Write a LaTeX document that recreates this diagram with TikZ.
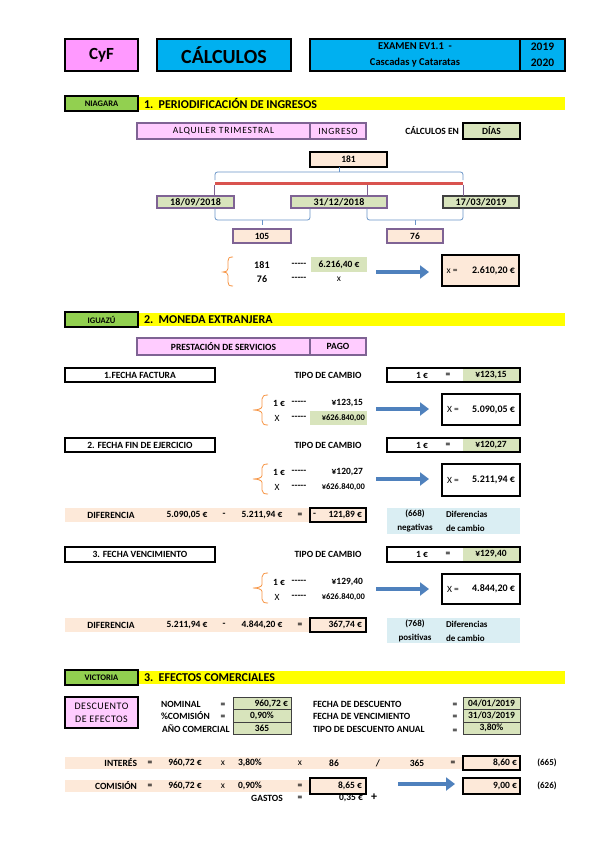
\documentclass[tikz,border=0pt]{standalone}
\usepackage{fontspec}
\setmainfont{Carlito}
\usetikzlibrary{arrows.meta,calc}
\definecolor{cpink}{HTML}{FF99FF}
\definecolor{ccyan}{HTML}{00B0F0}
\definecolor{cgreen}{HTML}{92D050}
\definecolor{cyel}{HTML}{FFFF00}
\definecolor{lpink}{HTML}{FFCCFF}
\definecolor{purp}{HTML}{7F6394}
\definecolor{lgreen}{HTML}{D8E4BC}
\definecolor{peach}{HTML}{FDE9D9}
\definecolor{lblue}{HTML}{DAEEF3}
\definecolor{orng}{HTML}{F79646}
\definecolor{cblue}{HTML}{4F81BD}
\definecolor{dblue}{HTML}{385D8A}
\definecolor{cred}{HTML}{D9534F}
\newcommand\dsh{-{}-{}-{}-{}-}
\begin{document}
\begin{tikzpicture}[x=1pt,y=-1pt,
  every node/.style={inner sep=0pt,outer sep=0pt},
  thk/.style={draw=black,line width=1.6pt},
  pbox/.style={draw=purp,line width=1.1pt},
  gbox/.style={draw=black!75,line width=0.9pt,fill=lgreen},
  nw/.style={anchor=north west},
  tb/.style={font=\bfseries\fontsize{9.5}{11}\selectfont},
  tbv/.style={font=\bfseries\fontsize{8.5}{10}\selectfont},
  tbr/.style={font=\bfseries\fontsize{10}{11}\selectfont\addfontfeature{LetterSpace=2}},
  tr/.style={font=\fontsize{9.5}{11}\selectfont},
  tbs/.style={font=\bfseries\fontsize{9}{10}\selectfont},
  hdr/.style={font=\bfseries\fontsize{12}{13}\selectfont,anchor=west},
  lab/.style={thk,fill=cgreen,minimum width=73,minimum height=15,nw,font=\bfseries\fontsize{8.5}{9}\selectfont},
  ybar/.style={fill=cyel,minimum width=427,minimum height=13,nw},
  bline/.style={draw=cblue!85,line width=0.8pt},
  pline/.style={draw=purp,line width=0.9pt},
  redbar/.style={draw=cred,line width=3pt},
  bigarrow/.style={draw=cblue,line width=4.5pt,-{Triangle[length=9pt,width=13pt]}},
  brace/.style={draw=orng,line width=0.8pt}
]
\path[use as bounding box] (0,0) rectangle (599,848);
\fill[white] (0,0) rectangle (599,848);

% ---------- top row
\node[thk,fill=cpink,minimum width=73,minimum height=32,nw,font=\bfseries\fontsize{17}{18}\selectfont] (cyf) at (65,39) {CyF};
\node[thk,fill=ccyan,minimum width=134,minimum height=32,nw,font=\bfseries\fontsize{20}{22}\selectfont] (calc) at (157,39) {CÁLCULOS};
\node[thk,fill=ccyan,minimum width=210,minimum height=32,nw,align=center,font=\bfseries\fontsize{10.5}{16}\selectfont] (exam) at (310,39) {EXAMEN EV1.1\ \ -\\Cascadas y Cataratas};
\node[thk,fill=ccyan,minimum width=45,minimum height=32,nw,align=center,font=\bfseries\fontsize{11.5}{16}\selectfont] (year) at (520,39) {2019\\2020};

% ---------- section 1
\node[ybar] (bar1) at (138,97) {};
\node[lab] (lab1) at (65,96) {NIAGARA};
\node[hdr] (h1) at (144,103.5) {1.\ \ PERIODIFICACIÓN DE INGRESOS};

\node[pbox,fill=lpink,minimum width=173,minimum height=16,nw,font=\fontsize{9.5}{10}\selectfont\addfontfeature{LetterSpace=8}] (alq) at (137,123) {ALQUILER TRIMESTRAL};
\node[pbox,fill=lpink,minimum width=56,minimum height=16,nw,font=\fontsize{9.5}{10}\selectfont\addfontfeature{LetterSpace=8}] (ing) at (310,123) {INGRESO};
\node[tb,anchor=east] (cen) at (459,131) {CÁLCULOS EN};
\node[thk,fill=lgreen,minimum width=57,minimum height=16,nw,tb] (dias) at (463,123) {DÍAS};

\node[thk,fill=peach,minimum width=77,minimum height=15,nw,tb] (n181) at (310,152) {181};
\node[pbox,fill=lgreen,minimum width=77,minimum height=12,nw,tbr] (d1) at (157,196) {18/09/2018};
\node[pbox,fill=lgreen,minimum width=96,minimum height=12,nw,tbr] (d2) at (291,196) {31/12/2018};
\node[draw=black!75,line width=1.1pt,fill=lgreen,minimum width=76,minimum height=12,nw,tbr] (d3) at (443,196) {17/03/2019};

\coordinate (t181) at (339,172);
\draw[bline] (t181 |- n181.south) -- (t181);
\draw[bline,rounded corners=2.5] (215,180) -- (215,172) -- (463,172) -- (463,180);
\draw[redbar] (215,183) -- (463,183);
\coordinate (pA) at (214,184.5);
\coordinate (pB) at (367,184.5);
\coordinate (pC) at (463,184.5);
\draw[pline] (pA) -- (pA |- d1.north);
\draw[pline] (pB) -- (pB |- d2.north);
\draw[pline] (pC) -- (pC |- d3.north);

\node[pbox,fill=peach,minimum width=58,minimum height=14,nw,tb] (n105) at (233,229) {105};
\node[pbox,fill=peach,minimum width=56,minimum height=14,nw,tb] (n76) at (387,229) {76};
\draw[bline,rounded corners=2.5] (215,208.5) -- (215,220) -- (310,220) -- (310,208.5);
\draw[bline,rounded corners=2.5] (367,208.5) -- (367,220) -- (463,220) -- (463,208.5);
\coordinate (k1) at (262,220);
\coordinate (k2) at (415,220);
\draw[bline,shorten >=4pt] (k1) -- (k1 |- n105.north);
\draw[bline,shorten >=4pt] (k2) -- (k2 |- n76.north);

\draw[brace] (233,257) .. controls (229,257) and (228,258) .. (228,261) -- (228,268.5) .. controls (228,271) and (226,272) .. (223,272) .. controls (226,272) and (228,273) .. (228,275.5) -- (228,282) .. controls (228,285) and (229,286) .. (233,286);
\node[tbr] (q181) at (262,265) {181};
\node[tbr] (q76) at (262,279) {76};
\node[tb] (qd1) at (299,265) {\dsh};
\node[tb] (qd2) at (299,279) {\dsh};
\node[fill=lgreen,minimum width=56,minimum height=15,nw,tb] (g1) at (311,257) {6.216,40 €};
\node[tr] (qx) at (339,279) {x};
\node[thk,fill=peach,minimum width=77,minimum height=31,nw] (r1) at (442,255) {};
\node[tr] (r1a) at (452,271) {x =};
\node[tb,font=\bfseries\fontsize{10}{11}\selectfont,anchor=east] (r1b) at (515,271) {2.610,20 €};
\coordinate (a1s) at (376,272);
\coordinate (a1e) at (429,272);
\draw[bigarrow] (a1s) -- (a1e);

% ---------- section 2
\node[ybar] (bar2) at (138,313) {};
\node[lab] (lab2) at (65,312) {IGUAZÚ};
\node[hdr] (h2) at (144,319.5) {2.\ \ MONEDA EXTRANJERA};
\node[pbox,fill=lpink,minimum width=173,minimum height=17,nw,tb] (pre) at (137,338) {PRESTACIÓN DE SERVICIOS};
\node[pbox,fill=lpink,minimum width=56,minimum height=17,nw,tb] (pag) at (310,338) {PAGO};

% row 1
\node[thk,fill=white,minimum width=150,minimum height=14,nw,tb] (f1) at (65,368) {1.FECHA FACTURA};
\node[tb] (tc1) at (328,375) {TIPO DE CAMBIO};
\node[fill=lgreen,minimum width=57,minimum height=14,nw] (eg1) at (463,368) {};
\node[thk,minimum width=133,minimum height=14,nw] (ex1) at (387,368) {};
\node[tb] (ex1a) at (422,375) {1 €};
\node[tb] (ex1b) at (448,375) {=};
\node[tb] (ex1c) at (491,375) {¥123,15};

\draw[brace] (268,395) .. controls (264,395) and (262,396) .. (262,399) -- (262,406.5) .. controls (262,409) and (257,410) .. (253,410) .. controls (257,410) and (262,411) .. (262,413.5) -- (262,421) .. controls (262,424) and (264,425) .. (268,425);
\node[tb] (s1a) at (279,403) {1 €};
\node[tb] (s1b) at (299,403) {\dsh};
\node[tb,anchor=east] (s1c) at (363,403) {¥123,15};
\node[fill=lgreen,minimum width=57,minimum height=14,nw] (sg1) at (310,411) {};
\node[tr] (s1d) at (277,418) {X};
\node[tb] (s1e) at (299,418) {\dsh};
\node[tbv,anchor=east] (s1f) at (365,418) {¥626.840,00};
\node[thk,fill=white,minimum width=78,minimum height=31,nw] (r2) at (442,394) {};
\node[tr] (r2a) at (453,409.5) {X =};
\node[tb,font=\bfseries\fontsize{10}{11}\selectfont,anchor=east] (r2b) at (515,409.5) {5.090,05 €};
\coordinate (a2s) at (376,409);
\coordinate (a2e) at (429,409);
\draw[bigarrow] (a2s) -- (a2e);

% row 2
\node[thk,fill=white,minimum width=150,minimum height=14,nw,tb] (f2) at (65,438) {2. FECHA FIN DE EJERCICIO};
\node[tb] (tc2) at (328,445) {TIPO DE CAMBIO};
\node[fill=lgreen,minimum width=57,minimum height=14,nw] (eg2) at (463,438) {};
\node[thk,minimum width=133,minimum height=14,nw] (ex2) at (387,438) {};
\node[tb] (ex2a) at (422,445) {1 €};
\node[tb] (ex2b) at (448,445) {=};
\node[tb] (ex2c) at (491,445) {¥120,27};

\draw[brace] (268,464) .. controls (264,464) and (262,465) .. (262,468) -- (262,475.5) .. controls (262,478) and (257,479) .. (253,479) .. controls (257,479) and (262,480) .. (262,482.5) -- (262,490) .. controls (262,493) and (264,494) .. (268,494);
\node[tb] (s2a) at (279,472) {1 €};
\node[tb] (s2b) at (299,472) {\dsh};
\node[tb,anchor=east] (s2c) at (363,472) {¥120,27};
\node[tr] (s2d) at (277,487) {X};
\node[tb] (s2e) at (299,487) {\dsh};
\node[tbv,anchor=east] (s2f) at (365,487) {¥626.840,00};
\node[thk,fill=white,minimum width=78,minimum height=32,nw] (r3) at (442,464) {};
\node[tr] (r3a) at (453,480) {X =};
\node[tb,font=\bfseries\fontsize{10}{11}\selectfont,anchor=east] (r3b) at (515,480) {5.211,94 €};
\coordinate (a3s) at (376,479);
\coordinate (a3e) at (429,479);
\draw[bigarrow] (a3s) -- (a3e);

% diferencia 1
\node[fill=peach,minimum width=245,minimum height=14,nw] (db1) at (65,508) {};
\node[tb] (df1a) at (111,515) {DIFERENCIA};
\node[tb] (df1b) at (187,515) {5.090,05 €};
\node[tb] (df1c) at (224,515) {-};
\node[tb] (df1d) at (262,515) {5.211,94 €};
\node[tb] (df1e) at (300,515) {=};
\node[thk,fill=peach,minimum width=56,minimum height=14,nw] (dr1) at (310,508) {};
\node[tb,anchor=west] (dr1a) at (313,515) {-};
\node[tb,anchor=east] (dr1b) at (362,515) {121,89 €};
\node[fill=lblue,minimum width=133,minimum height=26,nw] (ib1) at (387,508) {};
\node[tbs] (ib1a) at (415,514) {(668)};
\node[tbs] (ib1b) at (415,528) {negativas};
\node[tbs,anchor=west] (ib1c) at (446,514) {Diferencias};
\node[tbs,anchor=west] (ib1d) at (446,528) {de cambio};

% row 3
\node[thk,fill=white,minimum width=150,minimum height=15,nw,tb] (f3) at (65,547) {3. FECHA VENCIMIENTO};
\node[tb] (tc3) at (328,554.5) {TIPO DE CAMBIO};
\node[fill=lgreen,minimum width=57,minimum height=15,nw] (eg3) at (463,547) {};
\node[thk,minimum width=133,minimum height=15,nw] (ex3) at (387,547) {};
\node[tb] (ex3a) at (422,554.5) {1 €};
\node[tb] (ex3b) at (448,554.5) {=};
\node[tb] (ex3c) at (491,554.5) {¥129,40};

\draw[brace] (268,573) .. controls (264,573) and (262,574) .. (262,577) -- (262,584.5) .. controls (262,587) and (257,588) .. (253,588) .. controls (257,588) and (262,589) .. (262,591.5) -- (262,599) .. controls (262,602) and (264,603) .. (268,603);
\node[tb] (s3a) at (279,582) {1 €};
\node[tb] (s3b) at (299,582) {\dsh};
\node[tb,anchor=east] (s3c) at (363,582) {¥129,40};
\node[tr] (s3d) at (277,597) {X};
\node[tb] (s3e) at (299,597) {\dsh};
\node[tbv,anchor=east] (s3f) at (365,597) {¥626.840,00};
\node[thk,fill=white,minimum width=78,minimum height=30,nw] (r4) at (442,574) {};
\node[tr] (r4a) at (453,589) {X =};
\node[tb,font=\bfseries\fontsize{10}{11}\selectfont,anchor=east] (r4b) at (515,589) {4.844,20 €};
\coordinate (a4s) at (376,589);
\coordinate (a4e) at (429,589);
\draw[bigarrow] (a4s) -- (a4e);

% diferencia 2
\node[fill=peach,minimum width=245,minimum height=14,nw] (db2) at (65,618) {};
\node[tb] (df2a) at (111,625) {DIFERENCIA};
\node[tb] (df2b) at (187,625) {5.211,94 €};
\node[tb] (df2c) at (224,625) {-};
\node[tb] (df2d) at (262,625) {4.844,20 €};
\node[tb] (df2e) at (300,625) {=};
\node[thk,fill=peach,minimum width=56,minimum height=14,nw] (dr2) at (310,618) {};
\node[tb,anchor=east] (dr2b) at (362,625) {367,74 €};
\node[fill=lblue,minimum width=133,minimum height=25,nw] (ib2) at (387,618) {};
\node[tbs] (ib2a) at (415,624) {(768)};
\node[tbs] (ib2b) at (415,638) {positivas};
\node[tbs,anchor=west] (ib2c) at (446,624) {Diferencias};
\node[tbs,anchor=west] (ib2d) at (446,638) {de cambio};

% ---------- section 3
\node[ybar] (bar3) at (138,671) {};
\node[lab] (lab3) at (65,670) {VICTORIA};
\node[hdr] (h3) at (144,677.5) {3.\ \ EFECTOS COMERCIALES};

\node[thk,fill=lpink,minimum width=73,minimum height=31,nw,align=center,font=\fontsize{10}{13}\selectfont\addfontfeature{LetterSpace=5}] (desc) at (65,697) {DESCUENTO\\DE EFECTOS};
\node[tb,anchor=west] (l1) at (161,704) {NOMINAL};
\node[tb] (l1e) at (223,705) {=};
\node[tb,anchor=west] (l2) at (161,716) {\%COMISIÓN};
\node[tb] (l2e) at (223,717) {=};
\node[tb,anchor=west] (l3) at (162,729) {AÑO COMERCIAL};
\node[gbox,minimum width=58,minimum height=12.5,nw] (v1) at (233,697) {};
\node[tb,anchor=east] (v1t) at (288,703.5) {960,72 €};
\node[gbox,minimum width=58,minimum height=12.5,nw,tb] (v2) at (233,709.5) {0,90\%};
\node[gbox,minimum width=58,minimum height=12.5,nw,tb] (v3) at (233,722) {365};

\node[tb,anchor=west] (m1) at (313,704) {FECHA DE DESCUENTO};
\node[tb] (m1e) at (455,705) {=};
\node[tb,anchor=west] (m2) at (313,716) {FECHA DE VENCIMIENTO};
\node[tb] (m2e) at (455,717) {=};
\node[tb,anchor=west] (m3) at (313,729) {TIPO DE DESCUENTO ANUAL};
\node[tb] (m3e) at (455,731) {=};
\node[gbox,minimum width=57,minimum height=12.5,nw,tb] (w1) at (463,697) {04/01/2019};
\node[gbox,minimum width=57,minimum height=12.5,nw,tb] (w2) at (463,709.5) {31/03/2019};
\node[gbox,minimum width=57,minimum height=12.5,nw,tb] (w3) at (463,722) {3,80\%};

% interes
\node[fill=peach,minimum width=398,minimum height=12,nw] (ib) at (65,757) {};
\node[tb,anchor=east] (i1) at (137,763) {INTERÉS};
\node[tb] (i2) at (150,763) {=};
\node[tb] (i3) at (185,763) {960,72 €};
\node[tr] (i4) at (223,763) {x};
\node[tb] (i5) at (250,763) {3,80\%};
\node[tr] (i6) at (300,763) {x};
\node[tb] (i7) at (334,763) {86};
\node[tb] (i8) at (378,763) {/};
\node[tb] (i9) at (417,763) {365};
\node[tb] (i10) at (453,763) {=};
\node[thk,fill=peach,minimum width=57,minimum height=14,nw] (ir) at (463,756) {};
\node[tb,anchor=east] (irt) at (517,763) {8,60 €};
\node[tbs] (ic) at (547,763) {(665)};

% comision
\node[fill=peach,minimum width=245,minimum height=12,nw] (cb) at (65,780) {};
\node[tb,anchor=east] (c1) at (137,786) {COMISIÓN};
\node[tb] (c2) at (150,786) {=};
\node[tb] (c3) at (185,786) {960,72 €};
\node[tr] (c4) at (223,786) {x};
\node[tb] (c5) at (250,786) {0,90\%};
\node[tb] (c6) at (300,786) {=};
\node[thk,fill=peach,minimum width=56,minimum height=16,nw] (cr) at (310,778) {};
\node[tb,anchor=east] (crt) at (362,786) {8,65 €};
\node[tb] (g1l) at (267,798) {GASTOS};
\node[tb] (g1e) at (300,798) {=};
\node[tb,anchor=east] (g1v) at (363,798) {0,35 €};
\node[font=\bfseries\fontsize{12}{13}\selectfont] (plus) at (374,797) {+};
\coordinate (a5s) at (398,784);
\coordinate (a5e) at (455,784);
\draw[bigarrow] (a5s) -- (a5e);
\node[thk,fill=peach,minimum width=57,minimum height=16,nw] (fr) at (463,778) {};
\node[tb,anchor=east] (frt) at (517,786) {9,00 €};
\node[tbs] (fc) at (547,786) {(626)};
\end{tikzpicture}
\end{document}
